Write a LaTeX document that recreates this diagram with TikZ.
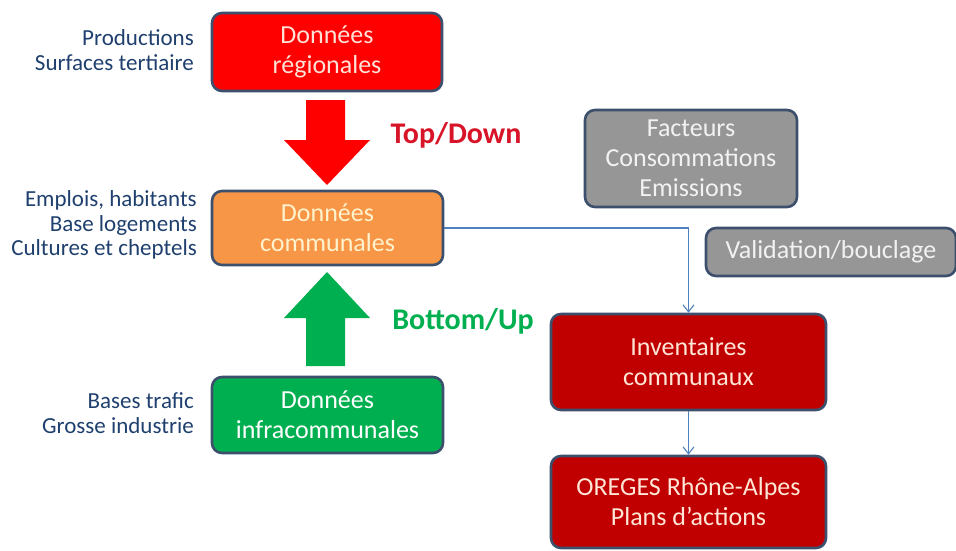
\documentclass[tikz,border=0pt]{standalone}
\usepackage{fontspec}
\setmainfont{Carlito}
\usetikzlibrary{arrows.meta}
\definecolor{bord}{RGB}{60,80,110}
\definecolor{lab}{RGB}{31,64,110}
\definecolor{rred}{RGB}{255,0,0}
\definecolor{orng}{RGB}{247,150,70}
\definecolor{grn}{RGB}{0,176,80}
\definecolor{gry}{RGB}{150,150,150}
\definecolor{dred}{RGB}{192,0,0}
\definecolor{conn}{RGB}{79,129,189}
\definecolor{tdred}{RGB}{215,20,40}
\tikzset{
  box/.style={draw=bord, line width=2.6pt, rounded corners=10pt, align=center,
    font=\fontsize{26}{30}\selectfont, inner sep=0pt},
  lbl/.style={align=right, anchor=east, text=lab, font=\fontsize{23}{24.5}\selectfont, inner sep=0pt},
  conline/.style={draw=conn, line width=1.1pt, -{Straight Barb[length=7pt,width=11pt]}},
  arrtext/.style={font=\fontsize{30}{32}\selectfont\bfseries, inner sep=0pt}
}
\begin{document}
\begin{tikzpicture}[x=1pt,y=-1pt]
\useasboundingbox (0,0) rectangle (956,551);
% boxes
\node[box, fill=rred, text={rgb,255:red,255;green,225;blue,215}, minimum width=230, minimum height=78] (reg) at (327,52) {Données\\régionales};
\node[box, fill=orng, text={rgb,255:red,255;green,242;blue,204}, minimum width=231, minimum height=74] (com) at (327.5,228) {Données\\communales};
\node[box, fill=grn, text=white, minimum width=231, minimum height=76] (infra) at (327.5,415) {Données\\infracommunales};
\node[box, fill=gry, text={rgb,255:red,242;green,242;blue,242}, minimum width=212, minimum height=97] (fac) at (691,158.5) {Facteurs\\Consommations\\Emissions};
\node[box, fill=gry, text={rgb,255:red,242;green,242;blue,242}, minimum width=250, minimum height=48] (val) at (831,252) {Validation/bouclage};
\node[box, fill=dred, text={rgb,255:red,255;green,230;blue,215}, minimum width=275, minimum height=96] (inv) at (688.5,362) {Inventaires\\communaux};
\node[box, fill=dred, text={rgb,255:red,255;green,230;blue,215}, minimum width=275, minimum height=92] (ore) at (688.5,502) {OREGES Rhône-Alpes\\Plans d’actions};
% left labels
\node[lbl] (l1) at (194,50) {Productions\\Surfaces tertiaire};
\node[lbl] (l2) at (197,225) {Emplois, habitants\\Base logements\\Cultures et cheptels};
\node[lbl] (l3) at (194,413) {Bases trafic\\Grosse industrie};
% block arrows
\fill[rred] (306,100) -- (345,100) -- (345,140) -- (370,140) -- (327,185) -- (284,140) -- (306,140) -- cycle;
\fill[grn] (306,366) -- (345,366) -- (345,318) -- (370,318) -- (327,272) -- (284,318) -- (306,318) -- cycle;
\node[arrtext, text=tdred] (td) at (456,135) {Top/Down};
\node[arrtext, text=grn] (bu) at (463,321) {Bottom/Up};
% connectors
\draw[conline] (com.east) -| (inv.north);
\draw[conline] (inv.south) -- (ore.north);
\end{tikzpicture}
\end{document}
